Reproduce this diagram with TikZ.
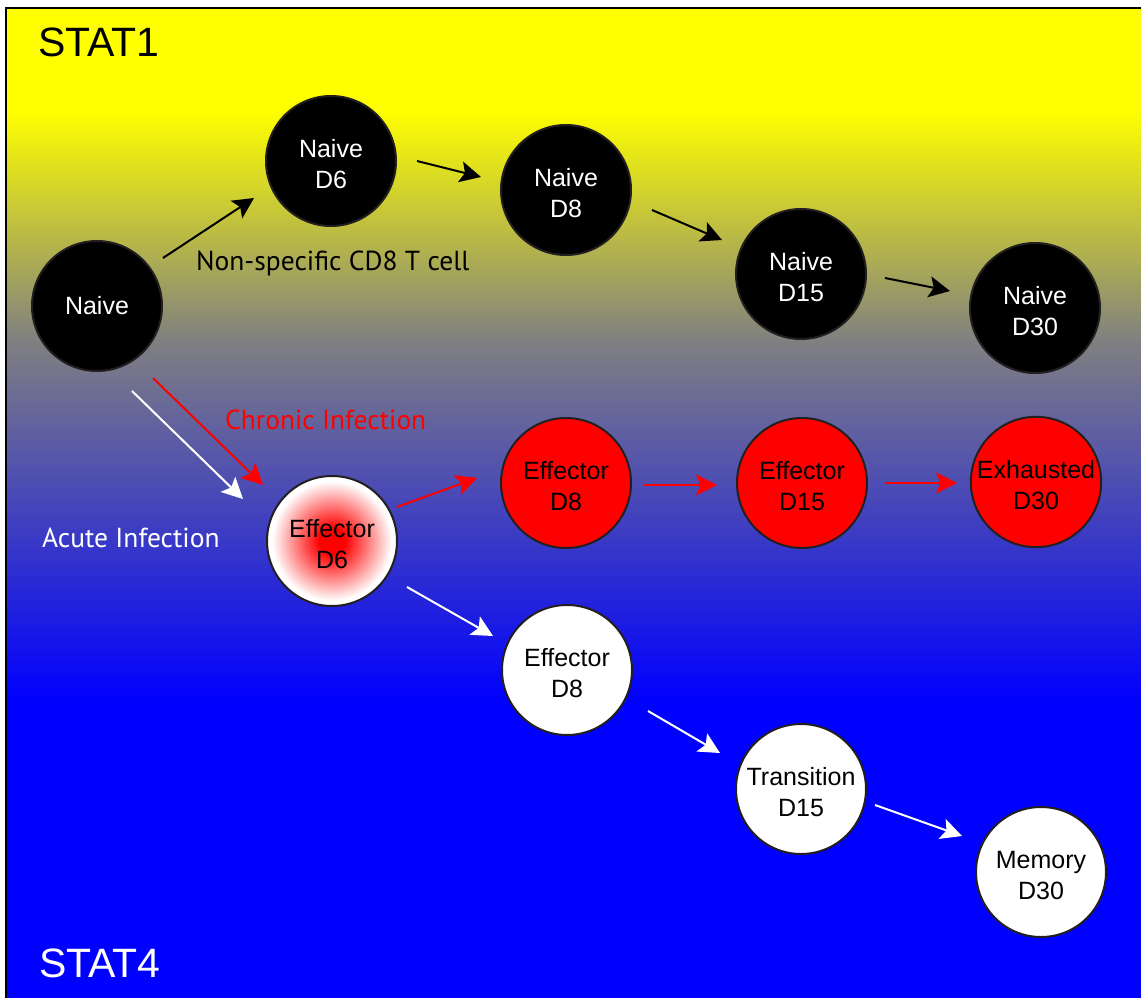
\documentclass[tikz,border=0pt]{standalone}
\usepackage{fontspec}
\setmainfont{Liberation Sans}
\newfontfamily\labelfont{PT Sans}
\usetikzlibrary{arrows.meta,calc}
\definecolor{rimc}{RGB}{35,31,32}
\definecolor{midgray}{RGB}{128,128,128}
\definecolor{bgyellow}{RGB}{255,255,0}
\definecolor{bgblue}{RGB}{0,0,255}
\pgfdeclareradialshading{redglow}{\pgfpoint{0bp}{0bp}}{color(0bp)=(red); color(5bp)=(red); color(14bp)=(red!50!white); color(23bp)=(white); color(25bp)=(white); color(50bp)=(white)}
\newcommand\lineup{\rule{0pt}{24pt}}
\begin{document}
\begin{tikzpicture}[x=1pt,y=-1pt,
  cell/.style={circle, draw=rimc, line width=2pt, minimum size=130pt, inner sep=0pt, align=center, font=\fontsize{25pt}{31pt}\selectfont},
  naive/.style={cell, fill=black, text=white},
  eff/.style={cell, fill=red, text=black},
  mem/.style={cell, fill=white, text=black},
  conn/.style={line width=2pt, -{Stealth[length=21pt,width=21pt,inset=4.5pt]}},
  lab/.style={inner sep=0pt, anchor=base west, font=\labelfont\fontsize{27.5pt}{30pt}\selectfont},
  stat/.style={inner sep=0pt, anchor=base west, font=\fontsize{41pt}{41pt}\selectfont}
]
\useasboundingbox (0,0) rectangle (1141,998);
\fill[white] (0,0) rectangle (1141,998);
% background gradient
\fill[bgyellow] (6,8) rectangle (1141,110);
\shade[top color=bgyellow, bottom color=midgray] (6,110) rectangle (1141,340);
\shade[top color=midgray, bottom color=bgblue] (6,340) rectangle (1141,700);
\fill[bgblue] (6,700) rectangle (1141,998);
\draw[line width=2pt] (6,998) -- (6,8) -- (1141,8);

% labels
\node[stat] (stat1) at (38,57) {STAT1};
\node[stat, text=white] (stat4) at (39,977) {STAT4};
\node[lab] (nonspec) at (196,270) {Non-specific CD8 T cell};
\node[lab, text=red] (chronic) at (225,429) {Chronic Infection};
\node[lab, text=white] (acute) at (42,547) {Acute Infection};

% naive row
\node[naive] (n0) at (97,306) {Naive};
\node[naive] (n6) at (331,161) {Naive\lineup\\D6};
\node[naive] (n8) at (566,190) {Naive\lineup\\D8};
\node[naive] (n15) at (801,274) {Naive\lineup\\D15};
\node[naive] (n30) at (1035,308) {Naive\lineup\\D30};

% effector row
\node[cell, shading=redglow, text=black] (e6) at (332,541) {Effector\lineup\\D6};
\node[eff] (e8) at (566,483) {Effector\lineup\\D8};
\node[eff] (e15) at (802,483) {Effector\lineup\\D15};
\node[eff] (x30) at (1036,482) {Exhausted\lineup\\D30};

% memory row
\node[mem] (w8) at (567,670) {Effector\lineup\\D8};
\node[mem] (t15) at (801,789) {Transition\lineup\\D15};
\node[mem] (m30) at (1041,872) {Memory\lineup\\D30};

% connectors
\draw[conn] ($(n0)+(66,-48)$) -- ($(n6)+(-77,37)$);
\draw[conn] ($(n6)+(86,0)$) -- ($(n8)+(-85,-13)$);
\draw[conn] ($(n8)+(86,20)$) -- ($(n15)+(-79,-34)$);
\draw[conn] ($(n15)+(84,4)$) -- ($(n30)+(-85,-17)$);

\draw[conn, red] ($(n0)+(56,72)$) -- ($(e6)+(-69,-56)$);
\draw[conn, white] ($(n0)+(35,85)$) -- ($(e6)+(-89,-42)$);

\draw[conn, red] ($(e6)+(65,-34)$) -- ($(e8)+(-89,-5)$);
\draw[conn, red] ($(e8)+(78,2)$) -- ($(e15)+(-85,2)$);
\draw[conn, red] ($(e15)+(83,0)$) -- ($(x30)+(-79,1)$);

\draw[conn, white] ($(e6)+(75,46)$) -- ($(w8)+(-74,-34)$);
\draw[conn, white] ($(w8)+(81,41)$) -- ($(t15)+(-81,-36)$);
\draw[conn, white] ($(t15)+(74,16)$) -- ($(m30)+(-79,-36)$);
\end{tikzpicture}
\end{document}
